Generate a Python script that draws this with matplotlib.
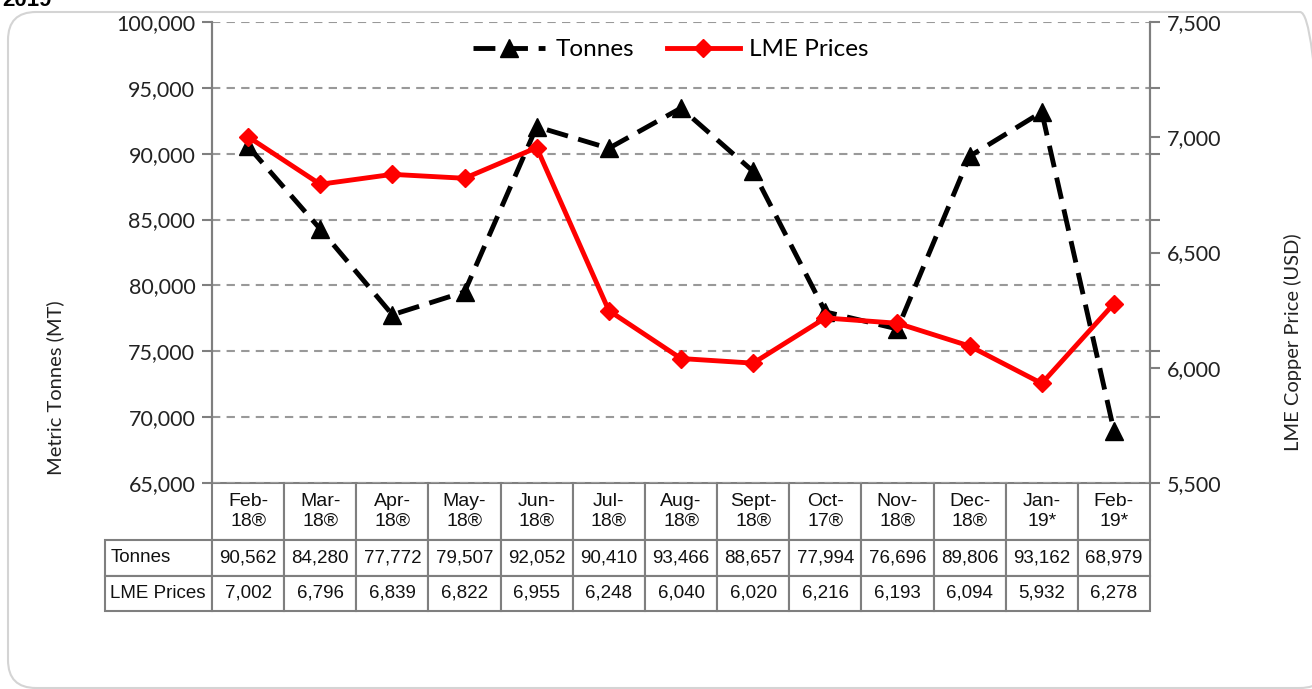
import matplotlib.pyplot as plt
import matplotlib.ticker as mticker
from matplotlib.patches import FancyBboxPatch
from matplotlib.transforms import IdentityTransform

months = ['Feb-\n18®', 'Mar-\n18®', 'Apr-\n18®', 'May-\n18®', 'Jun-\n18®', 'Jul-\n18®',
          'Aug-\n18®', 'Sept-\n18®', 'Oct-\n17®', 'Nov-\n18®', 'Dec-\n18®', 'Jan-\n19*', 'Feb-\n19*']
tonnes = [90562, 84280, 77772, 79507, 92052, 90410, 93466, 88657, 77994, 76696, 89806, 93162, 68979]
lme_prices = [7002, 6796, 6839, 6822, 6955, 6248, 6040, 6020, 6216, 6193, 6094, 5932, 6278]

axis_font = ['Lato', 'DejaVu Sans']
table_font = ['Liberation Sans Narrow', 'Liberation Sans', 'DejaVu Sans']
grey = '#7f7f7f'

W, H = 1312, 689
fig = plt.figure(figsize=(W / 100, H / 100), dpi=100)

# outer rounded frame
frame = FancyBboxPatch((8, 1), 1320, 676, boxstyle='round,pad=0,rounding_size=28',
                       transform=IdentityTransform(), fc='none', ec='#d4d4d4', lw=1.5)
fig.add_artist(frame)
fig.text(2 / W, 1 - 6 / H, '2019', fontsize=16, fontweight='bold', va='baseline',
         family=['Liberation Sans', 'DejaVu Sans'])

ax = fig.add_axes([212 / W, 1 - 483 / H, 938 / W, 461 / H])
ax2 = ax.twinx()
x = list(range(len(months)))

l1, = ax.plot(x, tonnes, color='black', lw=3.5, ls=(0, (4.5, 2.2)), marker='^', ms=13,
              label='Tonnes')
l2, = ax2.plot(x, lme_prices, color='#ff0000', lw=3.5, marker='D', ms=9, label='LME Prices')

ax.set_xlim(-0.5, len(months) - 0.5)
ax.set_xticks([])
ax.set_ylim(65000, 100000)
ax.set_yticks(range(65000, 100001, 5000))
ax.yaxis.set_major_formatter(mticker.StrMethodFormatter('{x:,.0f}'))
ax.yaxis.grid(True, ls=(0, (4, 3)), color='#999999', lw=1.5)
ax.set_axisbelow(True)

ax2.set_ylim(5500, 7500)
ax2.set_yticks(range(5500, 7501, 500))
ax2.set_yticks([5500 + k * 2000 / 7 for k in range(8)], minor=True)
ax2.yaxis.set_major_formatter(mticker.StrMethodFormatter('{x:,.0f}'))

for a in (ax, ax2):
    for s in ('top', 'bottom'):
        a.spines[s].set_visible(False)
    for s in ('left', 'right'):
        a.spines[s].set_color(grey)
        a.spines[s].set_linewidth(1.5)
    a.tick_params(axis='y', which='both', length=7, width=1.5, color=grey,
                  labelsize=15.5, labelcolor='#222222', pad=5)
    for lab in a.get_yticklabels():
        lab.set_family(axis_font)

leg = ax2.legend(handles=[l1, l2], loc='upper center', bbox_to_anchor=(0.489, 1.01), ncol=2,
                 frameon=False, handlelength=3.0, columnspacing=1.35, handletextpad=0.4,
                 prop={'family': axis_font, 'size': 17.5})

fig.text(55 / W, 1 - 388 / H, 'Metric Tonnes (MT)', rotation=90, ha='center', va='center',
         fontsize=14.5, family=axis_font, color='#222222')
fig.text(1293 / W, 1 - 342 / H, 'LME Copper Price (USD)', rotation=90, ha='center', va='center',
         fontsize=14.5, family=axis_font, color='#222222')

# data table below the plot
cell_text = [['Tonnes'] + [f'{v:,}' for v in tonnes],
             ['LME Prices'] + [f'{v:,}' for v in lme_prices]]
lab_w = 107 / 938
col_w = 1 / len(months)
tbl = ax.table(cellText=cell_text, colLabels=[''] + months,
               colWidths=[lab_w] + [col_w] * len(months),
               cellLoc='center', bbox=[-lab_w, -128 / 461, 1 + lab_w, 128 / 461])
tbl.auto_set_font_size(False)
tbl.set_fontsize(13.5)
for (r, c), cell in tbl.get_celld().items():
    cell.set_edgecolor(grey)
    cell.set_linewidth(1.5)
    cell.set_height(57 if r == 0 else 35.5)
    cell.get_text().set_family(table_font)
    cell.get_text().set_color('#111111')
    if c == 0:
        cell.get_text().set_ha('left')
        cell._loc = 'left'
        cell.PAD = 0.05
    if r == 0 and c == 0:
        cell.visible_edges = ''
    if r == 0:
        cell.get_text().set_fontsize(14)
        cell.get_text().set_linespacing(1.2)

fig.savefig('out.png', dpi=100)
